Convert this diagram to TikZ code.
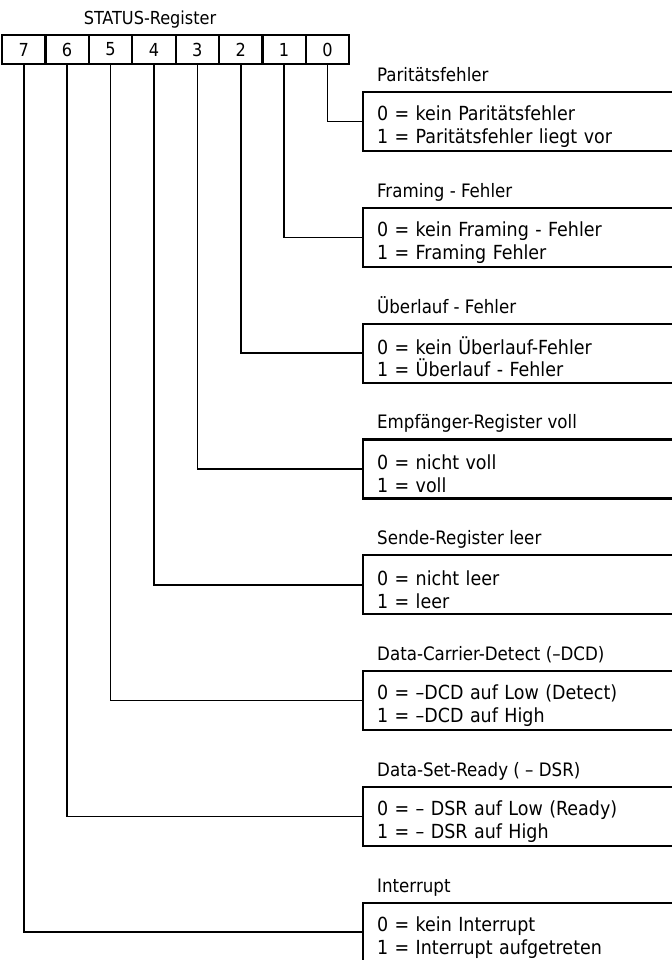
\documentclass[tikz,border=0pt]{standalone}
\usepackage{fontspec}
\setmainfont{DejaVu Sans Condensed}
\usetikzlibrary{positioning,calc}

\begin{document}
\begin{tikzpicture}[
  x=1bp, y=1bp, font=\fontsize{18}{23}\selectfont, node distance=56.8bp,
  cell/.style={draw, line width=2.2bp, minimum width=43.4bp, minimum height=29bp,
               inner sep=0pt, outer sep=0pt},
  field/.style={draw, line width=2.2bp, anchor=north west, text width=302bp,
                inner xsep=14bp, inner ysep=0pt, minimum height=59bp,
                align=left, outer sep=0pt, font=\fontsize{19.5}{23}\selectfont,
                execute at begin node={\rule{0pt}{25bp}}},
  wire/.style={line width=1.6bp},
  lbl/.style={anchor=base west, inner sep=0pt, font=\fontsize{18.6}{23}\selectfont},
]
\useasboundingbox (0,0) rectangle (672,-960);
\clip (0,0) rectangle (672,-960);

% register
\node[cell, anchor=north west] (b7) at (2,-35) {7};
\node[cell, right=0pt of b7] (b6) {6};
\node[cell, right=0pt of b6] (b5) {5};
\node[cell, right=0pt of b5] (b4) {4};
\node[cell, right=0pt of b4] (b3) {3};
\node[cell, right=0pt of b3] (b2) {2};
\node[cell, right=0pt of b2] (b1) {1};
\node[cell, right=0pt of b1] (b0) {0};
\node[anchor=base, inner sep=0pt] (regname) at (150,-24.5) {STATUS-Register};

% fields
\node[field] (f0) at (363,-92) {0 = kein Paritätsfehler\\1 = Paritätsfehler liegt vor};
\node[field, below=of f0] (f1) {0 = kein Framing - Fehler\\1 = Framing Fehler};
\node[field, below=of f1] (f2) {0 = kein Überlauf-Fehler\\1 = Überlauf - Fehler};
\node[field, below=of f2] (f3) {0 = nicht voll\\1 = voll};
\node[field, below=of f3] (f4) {0 = nicht leer\\1 = leer};
\node[field, below=of f4] (f5) {0 = –DCD auf Low (Detect)\\1 = –DCD auf High};
\node[field, below=of f5] (f6) {0 = – DSR auf Low (Ready)\\1 = – DSR auf High};
\node[field, below=of f6] (f7) {0 = kein Interrupt\\1 = Interrupt aufgetreten};

% field names
\node[lbl] (n0) at ($(f0.north west)+(14,10.5)$) {Paritätsfehler};
\node[lbl] (n1) at ($(f1.north west)+(14,10.5)$) {Framing - Fehler};
\node[lbl] (n2) at ($(f2.north west)+(14,10.5)$) {Überlauf - Fehler};
\node[lbl] (n3) at ($(f3.north west)+(14,10.5)$) {Empfänger-Register voll};
\node[lbl] (n4) at ($(f4.north west)+(14,10.5)$) {Sende-Register leer};
\node[lbl] (n5) at ($(f5.north west)+(14,10.5)$) {Data-Carrier-Detect (–DCD)};
\node[lbl] (n6) at ($(f6.north west)+(14,10.5)$) {Data-Set-Ready ( – DSR)};
\node[lbl] (n7) at ($(f7.north west)+(14,10.5)$) {Interrupt};

% bits to fields
\draw[wire] (b0.south) |- (f0.west);
\draw[wire] (b1.south) |- (f1.west);
\draw[wire] (b2.south) |- (f2.west);
\draw[wire] (b3.south) |- (f3.west);
\draw[wire] (b4.south) |- (f4.west);
\draw[wire] (b5.south) |- (f5.west);
\draw[wire] (b6.south) |- (f6.west);
\draw[wire] (b7.south) |- (f7.west);
\end{tikzpicture}
\end{document}
